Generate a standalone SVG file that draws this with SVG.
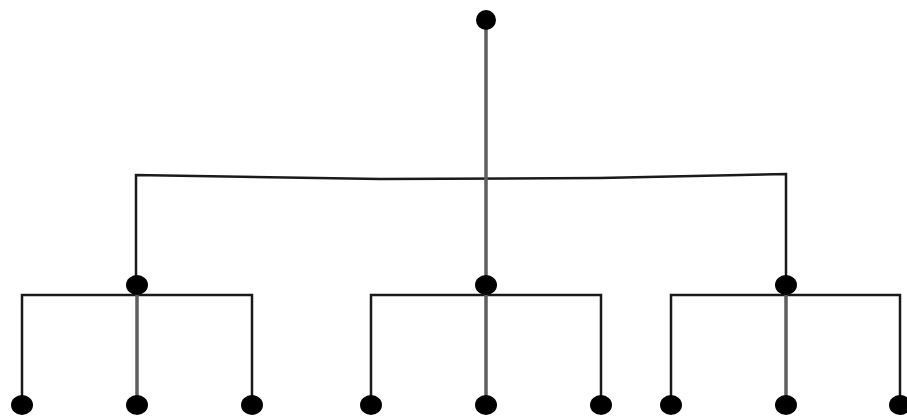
<svg xmlns="http://www.w3.org/2000/svg" width="907" height="416" viewBox="0 0 907 416">
<style>
.dark{stroke:#1a1a1a;stroke-width:2.5;fill:none}
.gray{stroke:#5e5e5e;stroke-width:3.5;fill:none}
.dot{fill:#000}
</style>
<rect width="907" height="416" fill="#fff"/>
<g id="connectors">
<polyline class="dark" points="136,285 136,175 380,179 600,178 786,174 786,285"/>
<line class="gray" x1="486" y1="20" x2="486" y2="285"/>
<polyline class="dark" points="22,405 22,295 252,295 252,405"/>
<polyline class="dark" points="371,405 371,295 601,295 601,405"/>
<polyline class="dark" points="671,405 671,295 900,295 900,405"/>
<line class="gray" x1="137" y1="285" x2="137" y2="405"/>
<line class="gray" x1="486" y1="285" x2="486" y2="405"/>
<line class="gray" x1="786" y1="285" x2="786" y2="405"/>
</g>
<g id="root"><ellipse class="dot" cx="486" cy="20" rx="10" ry="10"/></g>
<g id="n1"><ellipse class="dot" cx="137" cy="285" rx="11" ry="10"/></g>
<g id="n2"><ellipse class="dot" cx="486" cy="285" rx="11" ry="10"/></g>
<g id="n3"><ellipse class="dot" cx="786" cy="285" rx="11" ry="10"/></g>
<g id="l1"><ellipse class="dot" cx="22" cy="405" rx="11" ry="10"/></g>
<g id="l2"><ellipse class="dot" cx="137" cy="405" rx="11" ry="10"/></g>
<g id="l3"><ellipse class="dot" cx="252" cy="405" rx="11" ry="10"/></g>
<g id="l4"><ellipse class="dot" cx="371" cy="405" rx="11" ry="10"/></g>
<g id="l5"><ellipse class="dot" cx="486" cy="405" rx="11" ry="10"/></g>
<g id="l6"><ellipse class="dot" cx="601" cy="405" rx="11" ry="10"/></g>
<g id="l7"><ellipse class="dot" cx="671" cy="405" rx="11" ry="10"/></g>
<g id="l8"><ellipse class="dot" cx="786" cy="405" rx="11" ry="10"/></g>
<g id="l9"><ellipse class="dot" cx="900" cy="405" rx="11" ry="10"/></g>
</svg>
